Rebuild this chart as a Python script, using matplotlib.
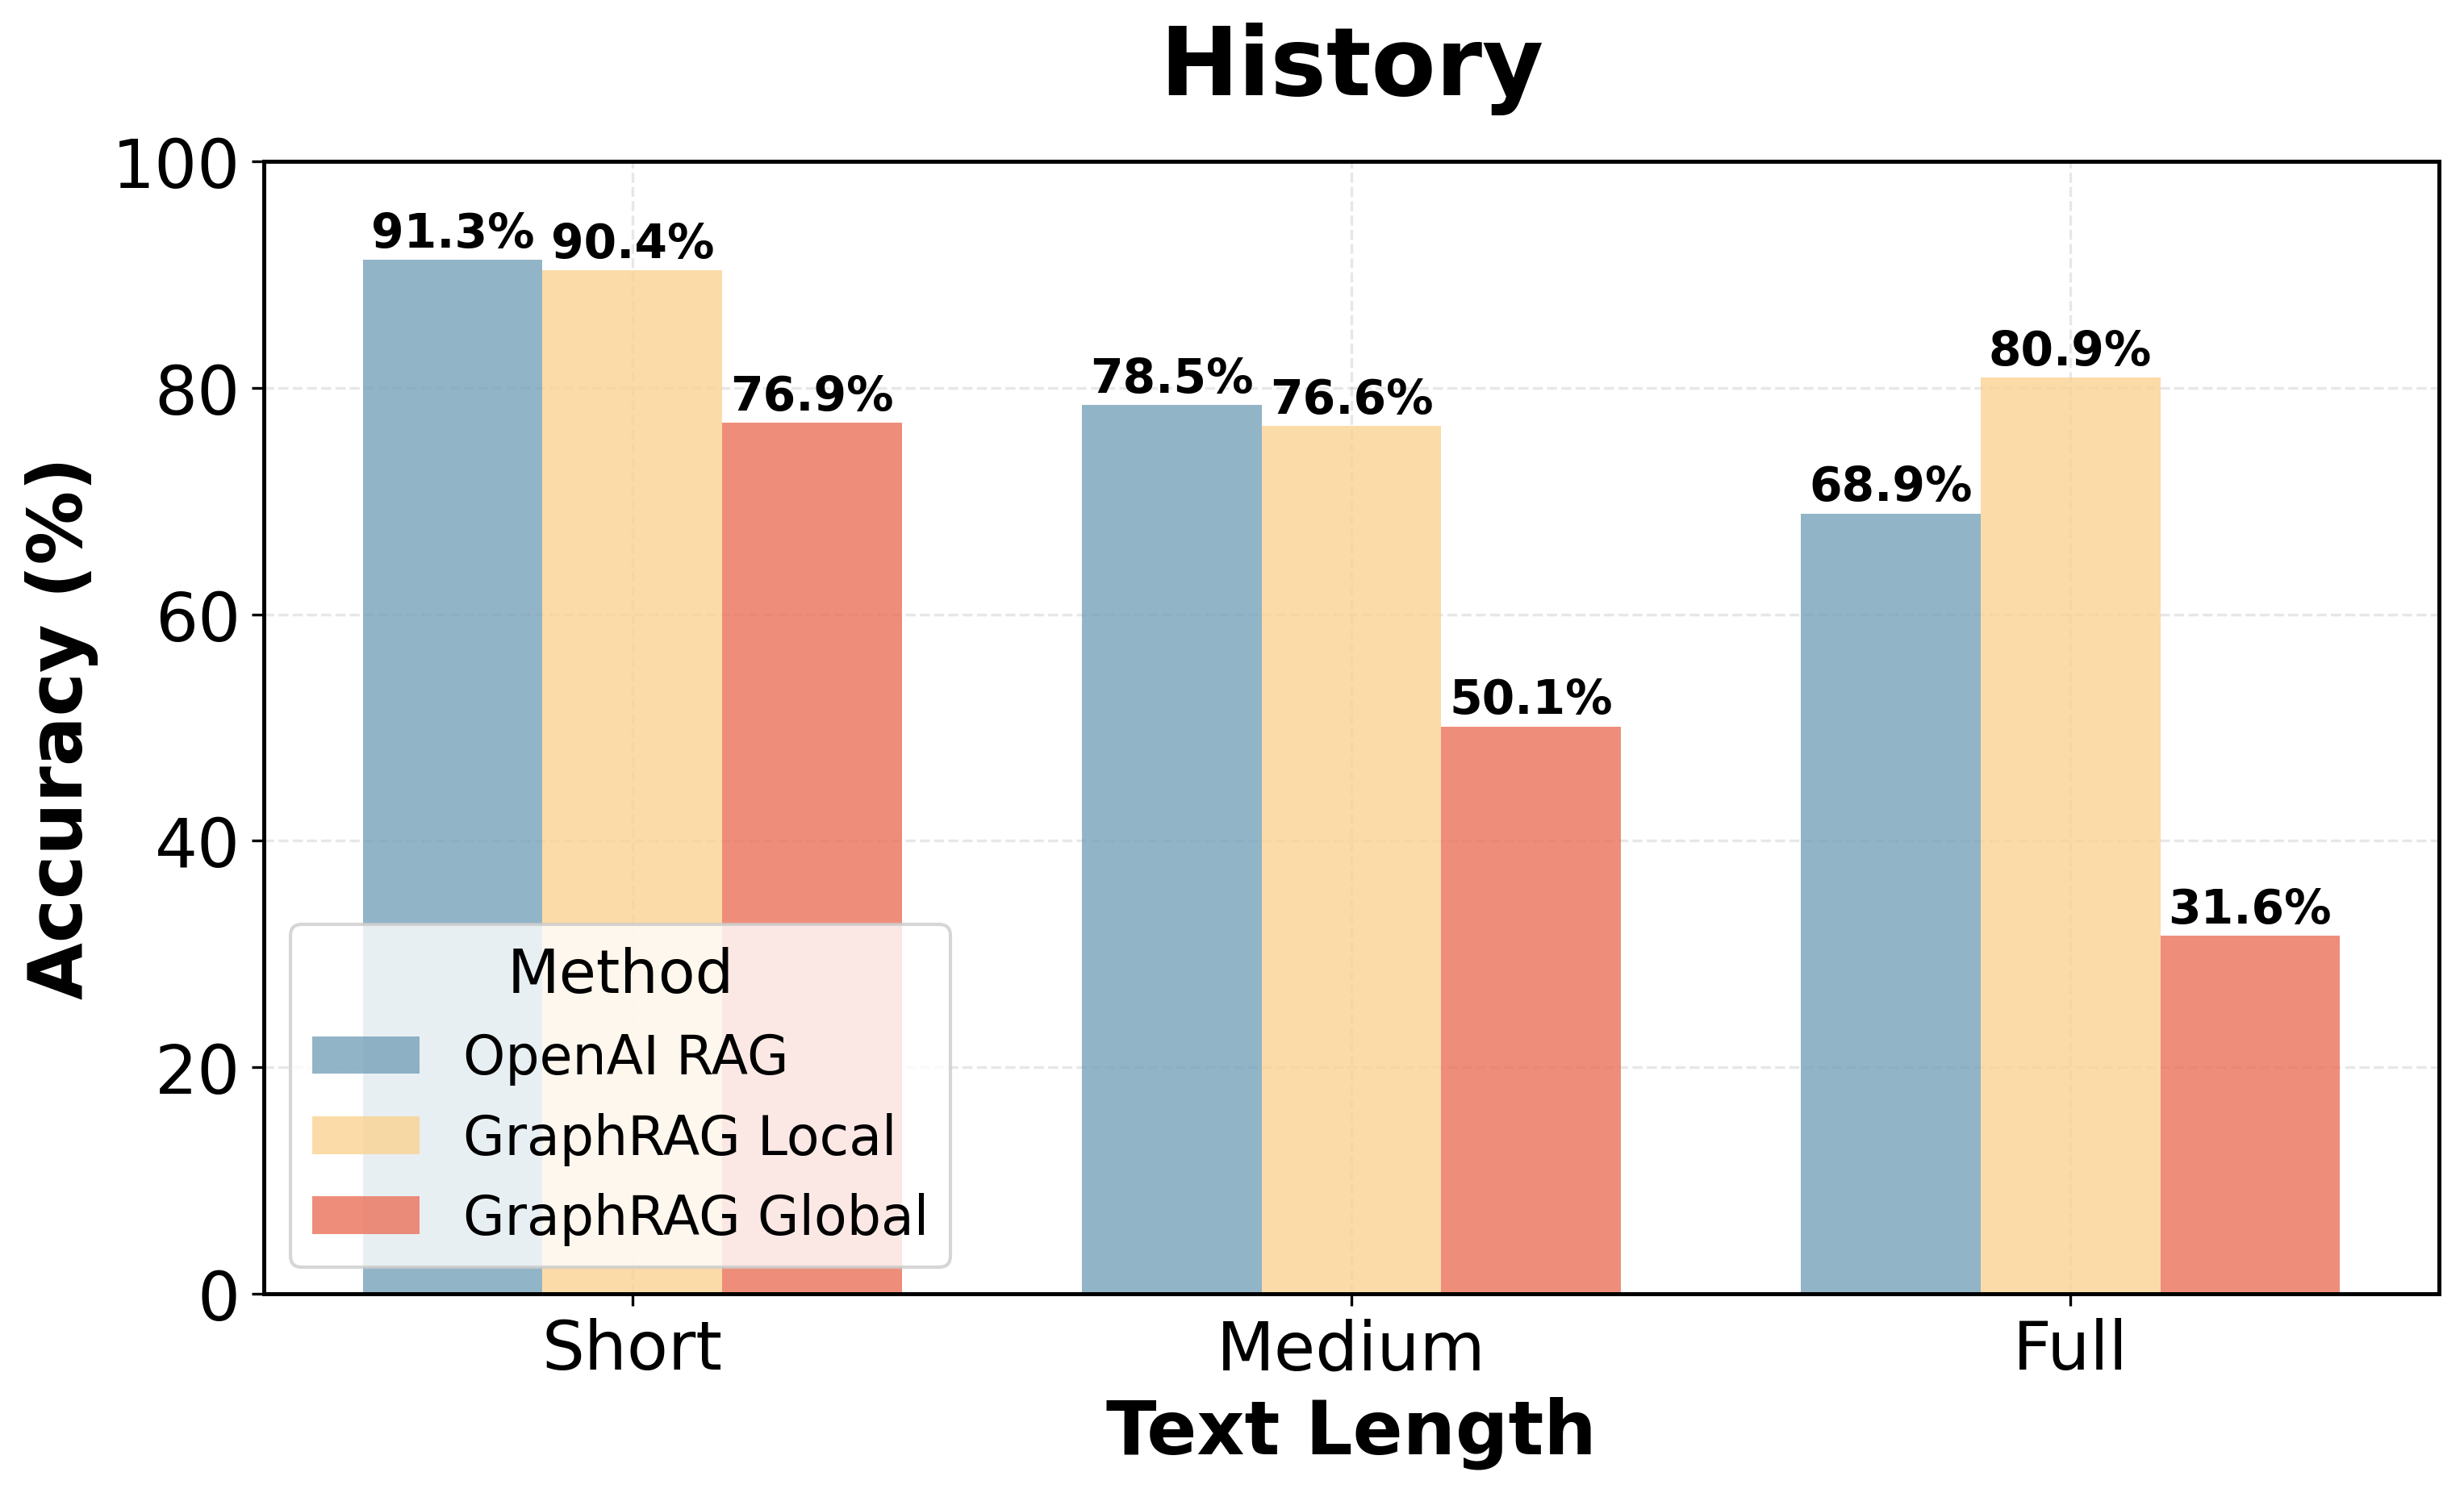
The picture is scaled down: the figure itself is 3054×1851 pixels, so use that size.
import matplotlib
matplotlib.use("Agg")
import matplotlib.pyplot as plt
import numpy as np

categories = ["Short", "Medium", "Full"]
methods = ["OpenAI RAG", "GraphRAG Local", "GraphRAG Global"]
openai_rag = [91.3, 78.5, 68.9]
graphrag_local = [90.4, 76.6, 80.9]
graphrag_global = [76.9, 50.1, 31.6]
colors = ["#77A1BA", "#FAD392", "#EA7259"]

series = [openai_rag, graphrag_local, graphrag_global]

fig = plt.figure(figsize=(3054 / 300, 1852 / 300), dpi=300)
ax = fig.add_axes([0.1071, 0.1334, 0.8827, 0.7581])

x = np.arange(len(categories))
width = 0.25
for i, (vals, name, c) in enumerate(zip(series, methods, colors)):
    pos = x + (i - 1) * width
    bars = ax.bar(pos, vals, width, label=name, color=c, alpha=0.8, zorder=2)
    for b, v in zip(bars, vals):
        ax.text(b.get_x() + b.get_width() / 2, v + 0.3, f"{v:.1f}%",
                ha="center", va="bottom", fontsize=14, fontweight="bold", zorder=3)

ax.set_ylim(0, 100)
ax.set_xticks(x)
ax.set_xticklabels(categories)
ax.tick_params(axis="both", labelsize=20)
ax.set_xlabel("Text Length", fontsize=22, fontweight="bold")
ax.set_ylabel("Accuracy (%)", fontsize=22, fontweight="bold")
ax.set_title("History", fontsize=28, fontweight="bold", pad=20)
ax.grid(True, linestyle="--", alpha=0.3, zorder=0)
ax.set_axisbelow(True)
for s in ax.spines.values():
    s.set_linewidth(1.2)

leg = ax.legend(title="Method", fontsize=16, title_fontsize=18, loc="lower left",
                framealpha=0.8)

fig.savefig("out.png", dpi=300)
